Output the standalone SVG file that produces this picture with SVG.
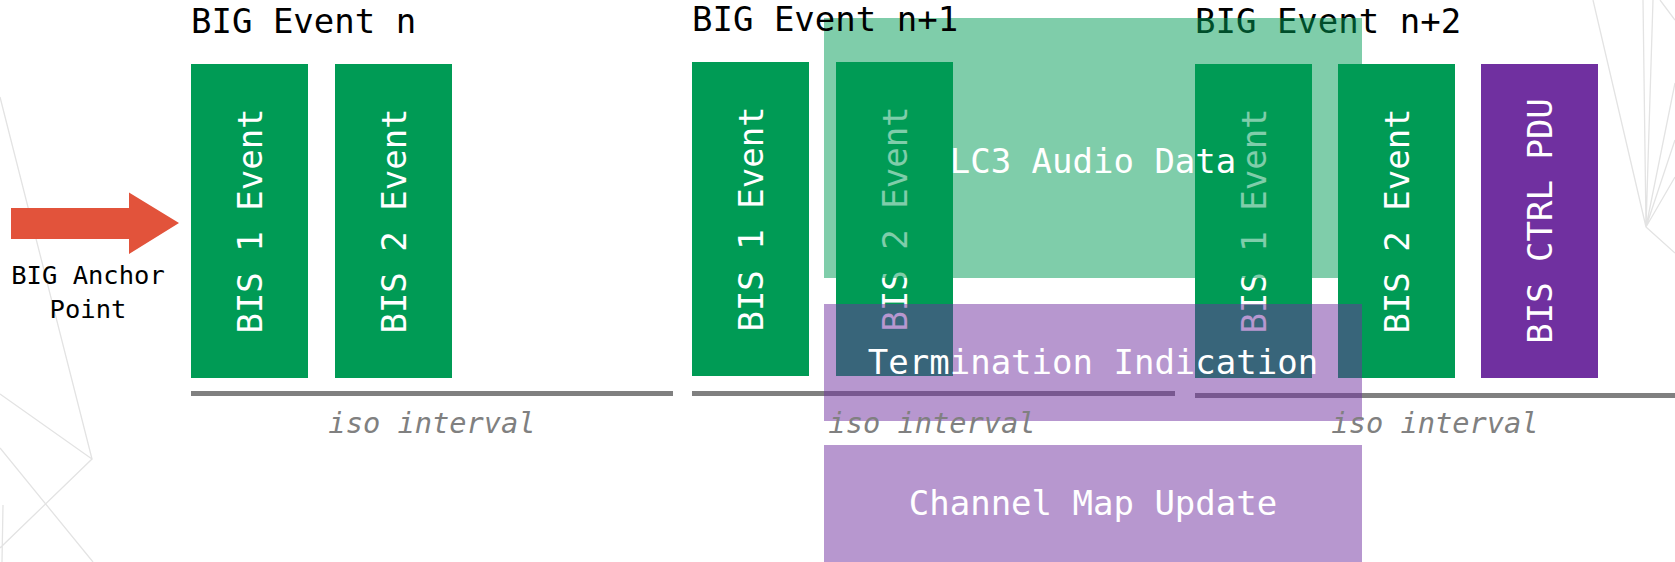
<svg xmlns="http://www.w3.org/2000/svg" width="1675" height="562" viewBox="0 0 1675 562">
<style>
.bg{fill:none;stroke:#e3e3e3;stroke-width:1.3}
.title{font-family:"DejaVu Sans Mono","Liberation Mono",monospace;font-size:34px;fill:#000}
.box{fill:#009b55}
.ctrl{fill:#7030a0}
.vt{font-family:"DejaVu Sans Mono","Liberation Mono",monospace;font-size:34px;fill:#fff;text-anchor:middle}
.line{stroke:#808080;stroke-width:5}
.ovg{fill:#009b55;fill-opacity:0.5}
.ovp{fill:#7030a0;fill-opacity:0.5}
.lbl{font-family:"DejaVu Sans Mono","Liberation Mono",monospace;font-size:34px;fill:#fff;text-anchor:middle}
.iso{font-family:"DejaVu Sans Mono","Liberation Mono",monospace;font-size:28.7px;font-style:italic;fill:#808080;text-anchor:middle}
.anc{font-family:"DejaVu Sans Mono","Liberation Mono",monospace;font-size:25.5px;fill:#000;text-anchor:middle}
</style>
<rect width="1675" height="562" fill="#fff"/>
<g id="background">
<path class="bg" d="M0,97 L92,459 M0,394 L92,459 L0,548 M0,448 L93,562 M3,505 L2,562"/>
<path class="bg" d="M1593,0 L1646,227 M1643,0 L1646,227 M1653,0 L1646,227 M1675,83 L1646,227 M1675,140 L1646,227 M1675,177 L1646,227 M1646,227 L1675,253 M1660,0 L1675,20"/>
</g>
<text id="title-n" class="title" x="191" y="33">BIG Event n</text>
<text id="title-n2" class="title" x="1195" y="33">BIG Event n+2</text>
<g id="anchor">
<polygon points="11,208 129,208 129,192.5 179,223 129,254 129,239 11,239" fill="#e2533b"/>
<text class="anc" x="88" y="284">BIG Anchor</text>
<text class="anc" x="88" y="318">Point</text>
</g>
<g id="n-bis1"><rect class="box" x="191" y="64" width="117" height="314"/><text class="vt" transform="translate(262,221) rotate(-90)">BIS 1 Event</text></g>
<g id="n-bis2"><rect class="box" x="335" y="64" width="117" height="314"/><text class="vt" transform="translate(406,221) rotate(-90)">BIS 2 Event</text></g>
<g id="n1-bis1"><rect class="box" x="692" y="62" width="117" height="314"/><text class="vt" transform="translate(763,219) rotate(-90)">BIS 1 Event</text></g>
<g id="n1-bis2"><rect class="box" x="836" y="62" width="117" height="314"/><text class="vt" transform="translate(907,219) rotate(-90)">BIS 2 Event</text></g>
<g id="n2-bis1"><rect class="box" x="1195" y="64" width="117" height="314"/><text class="vt" transform="translate(1266,221) rotate(-90)">BIS 1 Event</text></g>
<g id="n2-bis2"><rect class="box" x="1338" y="64" width="117" height="314"/><text class="vt" transform="translate(1409,221) rotate(-90)">BIS 2 Event</text></g>
<g id="n2-ctrl"><rect class="ctrl" x="1481" y="64" width="117" height="314"/><text class="vt" transform="translate(1552,221) rotate(-90)">BIS CTRL PDU</text></g>
<g id="connectors">
<line class="line" x1="191" y1="393.5" x2="673" y2="393.5"/>
<line class="line" x1="692" y1="393.5" x2="1175" y2="393.5"/>
<line class="line" x1="1195" y1="395.5" x2="1675" y2="395.5"/>
</g>
<g id="lc3"><rect class="ovg" x="824" y="18" width="538" height="260"/></g>
<g id="term"><rect class="ovp" x="824" y="304" width="538" height="117"/></g>
<g id="chmap"><rect class="ovp" x="824" y="445" width="538" height="117"/></g>
<text id="title-n1" class="title" x="692" y="31">BIG Event n+1</text>
<g id="labels">
<text class="lbl" x="1093" y="173">LC3 Audio Data</text>
<text class="lbl" x="1093" y="374">Termination Indication</text>
<text class="lbl" x="1093" y="515">Channel Map Update</text>
<text class="iso" x="432" y="433">iso interval</text>
<text class="iso" x="932" y="433">iso interval</text>
<text class="iso" x="1435" y="433">iso interval</text>
</g>
</svg>
